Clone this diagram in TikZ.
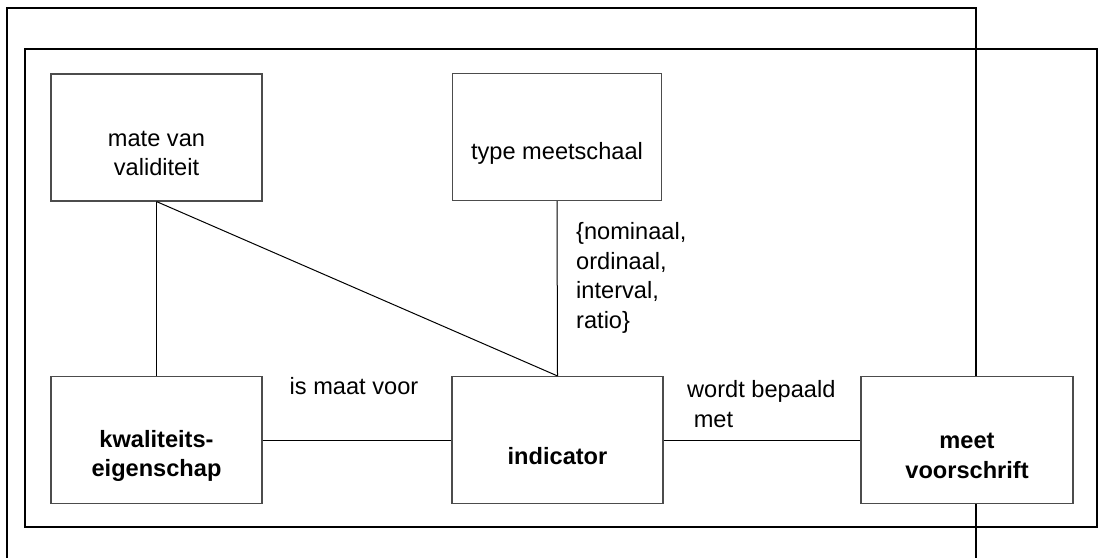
\documentclass[tikz,border=0pt]{standalone}
\usepackage{fontspec}
\setmainfont{Liberation Sans}
\begin{document}
\begin{tikzpicture}[x=1pt, y=-1pt,
  frame/.style={draw=black, line width=2pt},
  entity/.style={draw=black!70, line width=1.1pt, fill=white, inner sep=0pt,
    minimum width=211pt, minimum height=127pt},
  link/.style={draw=black, line width=1pt},
  txt/.style={font=\fontsize{23.6}{29.5}\selectfont, inner sep=0pt, align=center},
  btxt/.style={txt, font=\fontsize{23.6}{29.5}\selectfont\bfseries}
]
\useasboundingbox (0,0) rectangle (1102,557);

% enclosing frames
\draw[frame] (7,570) -- (7,8) -- (976,8) -- (976,570);
\draw[frame] (25,49) rectangle (1097,527);

% entity boxes
\node[entity] (mate) at (156.5,137.5) {};
\node[entity, minimum width=209pt] (type) at (557,137) {};
\node[entity] (kwal) at (156.5,440) {};
\node[entity] (ind) at (557.5,440) {};
\node[entity, minimum width=212pt] (meet) at (967,440) {};

% connectors
\draw[link] (mate.south) -- (kwal.north);
\draw[link] (mate.south) -- (ind.north);
\draw[link] (type.south) -- (ind.north);
\draw[link] (kwal.east) -- (ind.west);
\draw[link] (ind.east) -- (meet.west);

% box texts
\node[txt] (tmate) at ([yshift=-16pt]mate.center) {mate van\\validiteit};
\node[txt] (ttype) at ([yshift=-16pt]type.center) {type meetschaal};
\node[btxt] (tkwal) at ([yshift=-16pt]kwal.center) {kwaliteits-\\eigenschap};
\node[btxt] (tind) at ([yshift=-16pt]ind.center) {indicator};
\node[btxt] (tmeet) at ([yshift=-16pt]meet.center) {meet\\voorschrift};

% relation labels
\node[txt, align=left, anchor=west] (lschaal) at (576,278) {\{nominaal,\\ordinaal,\\interval,\\ratio\}};
\node[txt] (lmaat) at (354,386) {is maat voor};
\node[txt, align=left, anchor=west] (lbepaald) at (687,404) {wordt bepaald\\\ met};
\end{tikzpicture}
\end{document}
